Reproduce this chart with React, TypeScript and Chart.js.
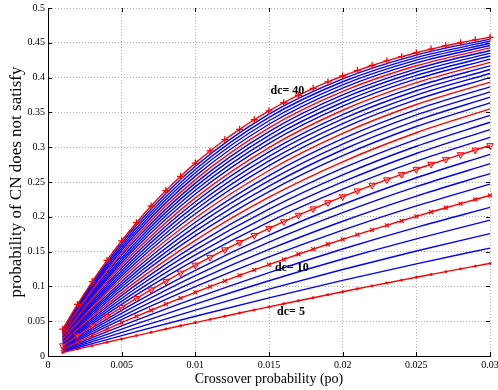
import React, { useEffect, useRef } from 'react';
import { Chart, registerables } from 'chart.js';

Chart.register(...registerables);

// Crossover probability (x) — dense grid used by the marked curves
const PO = [
  0.001, 0.002, 0.003, 0.004, 0.005, 0.006, 0.007, 0.008, 0.009, 0.01,
  0.011, 0.012, 0.013, 0.014, 0.015, 0.016, 0.017, 0.018, 0.019, 0.02,
  0.021, 0.022, 0.023, 0.024, 0.025, 0.026, 0.027, 0.028, 0.029, 0.03,
];
// read-off points for the unmarked curves
const PO_SPARSE = [0.001, 0.002, 0.003, 0.006, 0.01, 0.015, 0.02, 0.025, 0.03];

const X_TICKS = [0, 0.005, 0.01, 0.015, 0.02, 0.025, 0.03];
const Y_TICKS = [0, 0.05, 0.1, 0.15, 0.2, 0.25, 0.3, 0.35, 0.4, 0.45, 0.5];

// marked curves (30 points)
const DC5 = [0.00498, 0.00992, 0.01482, 0.01968, 0.02451, 0.02929, 0.03403, 0.03874, 0.04341, 0.04804, 0.05263, 0.05719, 0.06171, 0.06619, 0.07063, 0.07504, 0.07941, 0.08375, 0.08805, 0.09231, 0.09654, 0.10074, 0.1049, 0.10902, 0.11311, 0.11716, 0.12119, 0.12517, 0.12913, 0.13305];
const DC10 = [0.00991, 0.01964, 0.0292, 0.03859, 0.04782, 0.05686, 0.06574, 0.07448, 0.08305, 0.09146, 0.09972, 0.10784, 0.1158, 0.12362, 0.13128, 0.13882, 0.14621, 0.15347, 0.16059, 0.16758, 0.17444, 0.18119, 0.18779, 0.19427, 0.20063, 0.20687, 0.21301, 0.21901, 0.22491, 0.2307];
const DC15 = [0.01479, 0.02917, 0.04316, 0.05675, 0.06999, 0.08282, 0.0953, 0.10745, 0.11925, 0.13072, 0.14185, 0.15269, 0.16322, 0.17344, 0.18337, 0.19302, 0.2024, 0.21152, 0.22036, 0.22895, 0.2373, 0.24542, 0.25329, 0.26093, 0.26836, 0.27555, 0.28257, 0.28935, 0.29596, 0.30236];
const DC40 = [0.03848, 0.07406, 0.10696, 0.13738, 0.16554, 0.19151, 0.21551, 0.23771, 0.25822, 0.27715, 0.29463, 0.31079, 0.3257, 0.33945, 0.35214, 0.36386, 0.37466, 0.38464, 0.39384, 0.40231, 0.41013, 0.41735, 0.42399, 0.43011, 0.43575, 0.44093, 0.44573, 0.45013, 0.45419, 0.45792];

// unmarked curves (values at PO_SPARSE)
const DC6 = [0.00597, 0.01188, 0.01773, 0.03494, 0.05708, 0.08351, 0.10862, 0.13245, 0.15507];
const DC7 = [0.00696, 0.01383, 0.02063, 0.04052, 0.06594, 0.09601, 0.12428, 0.15083, 0.17576];
const DC8 = [0.00794, 0.01578, 0.0235, 0.04603, 0.07462, 0.10813, 0.13931, 0.16829, 0.19522];
const DC9 = [0.00893, 0.01771, 0.02636, 0.05148, 0.08313, 0.11988, 0.15373, 0.18488, 0.2135];
const DC11 = [0.01089, 0.02157, 0.03203, 0.06218, 0.09963, 0.14235, 0.18088, 0.2156, 0.24685];
const DC12 = [0.01187, 0.02348, 0.03484, 0.06743, 0.10764, 0.15308, 0.19365, 0.22982, 0.26204];
const DC13 = [0.01285, 0.02538, 0.03763, 0.07262, 0.11549, 0.16349, 0.2059, 0.24333, 0.27632];
const DC14 = [0.01382, 0.02728, 0.0404, 0.07775, 0.12318, 0.17358, 0.21766, 0.25616, 0.28974];
const DC16 = [0.01576, 0.03106, 0.0459, 0.08783, 0.1381, 0.19287, 0.2398, 0.27994, 0.31421];
const DC17 = [0.01673, 0.03293, 0.04862, 0.09277, 0.14534, 0.20209, 0.25021, 0.29094, 0.32536];
const DC18 = [0.0177, 0.0348, 0.05133, 0.09766, 0.15243, 0.21102, 0.2602, 0.30139, 0.33584];
const DC19 = [0.01866, 0.03666, 0.05402, 0.10249, 0.15938, 0.21969, 0.26979, 0.31132, 0.34569];
const DC20 = [0.01962, 0.03852, 0.0567, 0.10726, 0.1662, 0.2281, 0.279, 0.32076, 0.35495];
const DC21 = [0.02059, 0.04036, 0.05936, 0.11197, 0.17287, 0.23626, 0.28784, 0.32972, 0.36365];
const DC22 = [0.02154, 0.0422, 0.062, 0.11663, 0.17941, 0.24417, 0.29633, 0.33823, 0.37183];
const DC23 = [0.0225, 0.04403, 0.06463, 0.12123, 0.18583, 0.25185, 0.30447, 0.34632, 0.37952];
const DC24 = [0.02346, 0.04586, 0.06724, 0.12577, 0.19211, 0.25929, 0.31229, 0.35401, 0.38675];
const DC25 = [0.02441, 0.04767, 0.06984, 0.13026, 0.19827, 0.26651, 0.3198, 0.36131, 0.39354];
const DC26 = [0.02536, 0.04948, 0.07242, 0.1347, 0.2043, 0.27352, 0.32701, 0.36824, 0.39993];
const DC27 = [0.02631, 0.05128, 0.07499, 0.13908, 0.21022, 0.28031, 0.33393, 0.37483, 0.40594];
const DC28 = [0.02726, 0.05308, 0.07754, 0.14341, 0.21601, 0.2869, 0.34057, 0.38109, 0.41158];
const DC29 = [0.0282, 0.05487, 0.08007, 0.14769, 0.22169, 0.2933, 0.34695, 0.38703, 0.41689];
const DC30 = [0.02915, 0.05665, 0.08259, 0.15192, 0.22726, 0.2995, 0.35307, 0.39268, 0.42187];
const DC31 = [0.03009, 0.05842, 0.0851, 0.1561, 0.23271, 0.30551, 0.35895, 0.39805, 0.42656];
const DC32 = [0.03103, 0.06019, 0.08759, 0.16022, 0.23806, 0.31135, 0.36459, 0.40314, 0.43097];
const DC33 = [0.03197, 0.06195, 0.09006, 0.1643, 0.2433, 0.31701, 0.37001, 0.40799, 0.43511];
const DC34 = [0.0329, 0.0637, 0.09252, 0.16833, 0.24843, 0.3225, 0.37521, 0.41259, 0.439];
const DC35 = [0.03384, 0.06544, 0.09496, 0.17231, 0.25346, 0.32782, 0.3802, 0.41696, 0.44266];
const DC36 = [0.03477, 0.06718, 0.09739, 0.17624, 0.25839, 0.33299, 0.38499, 0.42111, 0.4461];
const DC37 = [0.0357, 0.06891, 0.09981, 0.18013, 0.26323, 0.338, 0.38959, 0.42505, 0.44934];
const DC38 = [0.03663, 0.07064, 0.10221, 0.18397, 0.26796, 0.34286, 0.39401, 0.4288, 0.45238];
const DC39 = [0.03755, 0.07236, 0.1046, 0.18776, 0.2726, 0.34757, 0.39825, 0.43236, 0.45523];

const RED_PLAIN = [DC20, DC25, DC30, DC35];
const BLUE = [
  DC6, DC7, DC8, DC9, DC11, DC12, DC13, DC14, DC16, DC17, DC18, DC19,
  DC21, DC22, DC23, DC24, DC26, DC27, DC28, DC29, DC31, DC32, DC33, DC34,
  DC36, DC37, DC38, DC39,
];

const CURVE_LABELS = [
  { text: 'dc= 40', po: 0.0151, p: 0.3805 },
  { text: 'dc= 10', po: 0.0154, p: 0.1263 },
  { text: 'dc= 5', po: 0.01555, p: 0.0632 },
];

const SERIF = "'Liberation Serif', 'Times New Roman', serif";
const RED = '#ff0000';
const BLUE_C = '#0000ff';
const GRID = 'rgba(170,170,170,0.9)';

const toPts = (xs: number[], ys: number[]) => ys.map((y, i) => ({ x: xs[i], y }));

const fmt = (v: number) => String(Number(v.toFixed(4)));

const matlabPlugin = {
  id: 'matlabDecor',
  afterDatasetsDraw(chart: any) {
    const { ctx, scales } = chart;
    ctx.save();
    ctx.fillStyle = '#000';
    ctx.font = `bold 12px ${SERIF}`;
    ctx.textAlign = 'left';
    ctx.textBaseline = 'middle';
    CURVE_LABELS.forEach((l) => {
      ctx.fillText(l.text, scales.x.getPixelForValue(l.po), scales.y.getPixelForValue(l.p));
    });
    ctx.restore();
  },
  afterDraw(chart: any) {
    const { ctx, chartArea, scales } = chart;
    const L = 4;
    ctx.save();
    ctx.strokeStyle = '#000';
    ctx.lineWidth = 1;
    ctx.beginPath();
    Y_TICKS.forEach((v) => {
      const y = Math.round(scales.y.getPixelForValue(v)) + 0.5;
      ctx.moveTo(chartArea.left, y);
      ctx.lineTo(chartArea.left + L, y);
      ctx.moveTo(chartArea.right, y);
      ctx.lineTo(chartArea.right - L, y);
    });
    X_TICKS.forEach((v) => {
      const x = Math.round(scales.x.getPixelForValue(v)) + 0.5;
      ctx.moveTo(x, chartArea.bottom);
      ctx.lineTo(x, chartArea.bottom - L);
      ctx.moveTo(x, chartArea.top);
      ctx.lineTo(x, chartArea.top + L);
    });
    ctx.stroke();
    ctx.restore();
  },
};

export default function App() {
  const canvasRef = useRef<HTMLCanvasElement | null>(null);

  useEffect(() => {
    if (!canvasRef.current) return;

    const base = {
      fill: false,
      borderWidth: 1.4,
      cubicInterpolationMode: 'monotone' as const,
      clip: false as const,
    };

    const datasets: any[] = [
      {
        ...base, label: 'dc=40', data: toPts(PO, DC40), borderColor: RED,
        pointStyle: 'cross', pointRadius: 3.5, pointBorderColor: RED, pointBorderWidth: 1.3,
      },
      {
        ...base, label: 'dc=15', data: toPts(PO, DC15), borderColor: RED,
        pointStyle: 'triangle', rotation: 180, pointRadius: 3.8, pointBorderColor: RED,
        pointBackgroundColor: 'rgba(255,120,120,0.35)', pointBorderWidth: 1,
      },
      {
        ...base, label: 'dc=10', data: toPts(PO, DC10), borderColor: RED,
        pointStyle: 'crossRot', pointRadius: 2.8, pointBorderColor: RED, pointBorderWidth: 1.2,
      },
      {
        ...base, label: 'dc=5', data: toPts(PO, DC5), borderColor: RED,
        pointStyle: 'circle', pointRadius: 1.2, pointBorderColor: RED, pointBackgroundColor: RED,
        pointBorderWidth: 0.5,
      },
      ...RED_PLAIN.map((ys, i) => ({
        ...base, label: 'red' + i, data: toPts(PO_SPARSE, ys), borderColor: RED, pointRadius: 0,
      })),
      ...BLUE.map((ys, i) => ({
        ...base, label: 'blue' + i, data: toPts(PO_SPARSE, ys), borderColor: BLUE_C, pointRadius: 0,
      })),
    ];

    const chart = new Chart(canvasRef.current, {
      type: 'line',
      data: { datasets },
      plugins: [matlabPlugin],
      options: {
        animation: false,
        responsive: false,
        events: [],
        layout: { padding: { top: 8, right: 8, left: 0, bottom: 0 } },
        plugins: { legend: { display: false }, tooltip: { enabled: false }, title: { display: false } },
        scales: {
          x: {
            type: 'linear',
            min: 0,
            max: 0.03,
            afterBuildTicks: (s: any) => { s.ticks = X_TICKS.map((v) => ({ value: v })); },
            afterFit: (s: any) => { s.height = 34; s.paddingLeft = 0; s.paddingRight = 0; },
            ticks: {
              color: '#000', padding: 3, maxRotation: 0, autoSkip: false,
              font: { family: SERIF, size: 10 },
              callback: (v: any) => fmt(Number(v)),
            },
            grid: { color: GRID, lineWidth: 1, drawTicks: false },
            border: { display: true, color: '#000', width: 1, dash: [1, 2] },
            title: {
              display: true, text: 'Crossover probability (po)', color: '#000',
              font: { family: SERIF, size: 14 }, padding: { top: 0, bottom: 2 },
            },
          },
          y: {
            type: 'linear',
            min: 0,
            max: 0.5,
            afterBuildTicks: (s: any) => { s.ticks = Y_TICKS.map((v) => ({ value: v })); },
            afterFit: (s: any) => { s.width = 48; s.paddingTop = 0; s.paddingBottom = 0; },
            ticks: {
              color: '#000', padding: 3, autoSkip: false,
              font: { family: SERIF, size: 10 },
              callback: (v: any) => fmt(Number(v)),
            },
            grid: { color: GRID, lineWidth: 1, drawTicks: false },
            border: { display: true, color: '#000', width: 1, dash: [1, 2] },
            title: {
              display: true, text: 'probability of CN does not satisfy', color: '#000',
              font: { family: SERIF, size: 17 }, padding: { top: 6, bottom: 0 },
            },
          },
        },
      } as any,
    });

    return () => chart.destroy();
  }, []);

  return (
    <div style={{ position: 'absolute', left: 0, top: 0, width: 498, height: 390, background: '#fff' }}>
      <canvas ref={canvasRef} width={498} height={390} style={{ display: 'block' }} />
    </div>
  );
}
